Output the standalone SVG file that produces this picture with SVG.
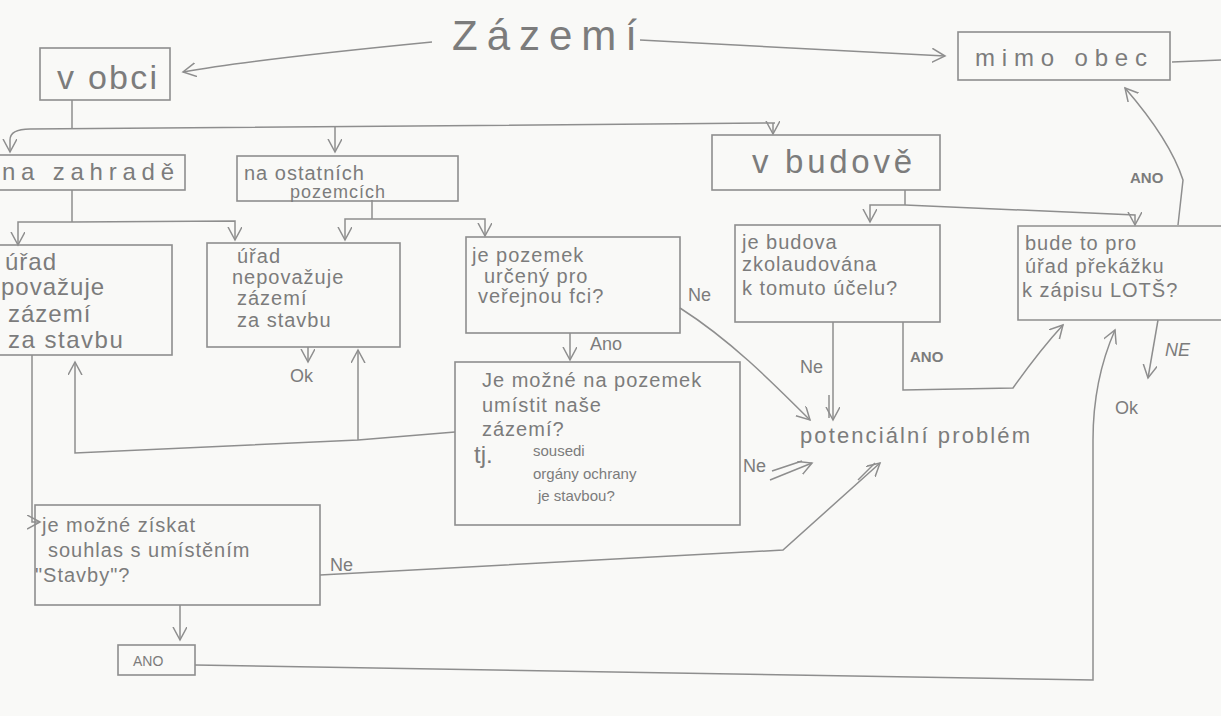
<svg xmlns="http://www.w3.org/2000/svg" width="1221" height="716" viewBox="0 0 1221 716">
<style>
.bg{fill:#f9f9f7}
.box{fill:none;stroke:#8e8e8e;stroke-width:1.6}
.c{fill:none;stroke:#8e8e8e;stroke-width:1.5}
.ca{fill:none;stroke:#8e8e8e;stroke-width:1.5;marker-end:url(#ah)}
text{font-family:"Liberation Sans","DejaVu Sans",sans-serif;fill:#7c7c7c}
.t{font-size:20px;letter-spacing:1px}
.s{font-size:15px}
.lab{font-size:18px}
.cap{font-size:15px;font-weight:bold}
</style>
<defs>
<marker id="ah" markerUnits="userSpaceOnUse" markerWidth="18" markerHeight="18" refX="13" refY="7" orient="auto">
<path d="M0,0 L13,7 L0,14" fill="none" stroke="#8e8e8e" stroke-width="1.5"/>
</marker>
</defs>
<rect class="bg" x="0" y="0" width="1221" height="716"/>

<g id="connectors">
<path class="ca" d="M432,42 C350,50 250,60 183,72"/>
<path class="ca" d="M640,40 L945,56"/>
<path class="c" d="M1172,62 L1221,60"/>
<path class="c" d="M72,100 V128"/>
<path class="ca" d="M775,123 L30,129 Q10,129 10,140 V152"/>
<path class="ca" d="M335,127 V152"/>
<path class="ca" d="M773,123 V134"/>
<path class="c" d="M72,190 V222"/>
<path class="ca" d="M72,222 L18,222 V245"/>
<path class="ca" d="M72,222 L235,221 V240"/>
<path class="c" d="M372,200 V219"/>
<path class="ca" d="M372,219 L345,219 V240"/>
<path class="ca" d="M372,219 L485,219 V236"/>
<path class="ca" d="M308,347 V362"/>
<path class="ca" d="M680,308 C730,340 770,380 810,420"/>
<path class="ca" d="M570,333 V360"/>
<path class="ca" d="M455,432 L358,440 L75,453 V362"/>
<path class="ca" d="M358,440 V350"/>
<path class="ca" d="M770,480 L812,463"/>
<path class="c" d="M772,471 L802,461"/>
<path class="c" d="M905,190 V205"/>
<path class="ca" d="M905,205 L870,205 V222"/>
<path class="ca" d="M905,205 L1135,215 V225"/>
<path class="ca" d="M833,322 V420"/>
<path class="c" d="M829,395 V418"/>
<path class="ca" d="M903,322 V390 L1013,388 Q1040,350 1063,325"/>
<path class="ca" d="M1178,225 L1183,180 Q1170,140 1125,88"/>
<path class="ca" d="M1158,320 L1148,378"/>
<path class="ca" d="M32,355 V522 L40,522"/>
<path class="ca" d="M320,575 L783,550 L880,463"/>
<path class="c" d="M858,480 L875,463"/>
<path class="ca" d="M180,605 V640"/>
<path class="ca" d="M195,665 L1093,680 V440 Q1093,380 1115,330"/>
<text class="lab" x="688" y="301">Ne</text>
<text class="lab" x="590" y="350">Ano</text>
<text class="lab" x="743" y="472">Ne</text>
<text class="lab" x="800" y="373">Ne</text>
<text class="cap" x="910" y="362">ANO</text>
<text class="cap" x="1130" y="183">ANO</text>
<text class="lab" x="1165" y="356" font-style="italic">NE</text>
<text class="lab" x="1115" y="414">Ok</text>
<text class="lab" x="290" y="382">Ok</text>
<text class="lab" x="330" y="571">Ne</text>
</g>

<g id="title">
<text x="452" y="50" font-size="42" textLength="185" lengthAdjust="spacing">Zázemí</text>
</g>

<g id="v-obci">
<rect class="box" x="40" y="48" width="130" height="52"/>
<text x="57" y="89" font-size="34" textLength="100" lengthAdjust="spacing">v obci</text>
</g>

<g id="mimo-obec">
<rect class="box" x="958" y="32" width="212" height="48"/>
<text x="975" y="66" font-size="24" textLength="172" lengthAdjust="spacing">mimo obec</text>
</g>

<g id="na-zahrade">
<rect class="box" x="-5" y="155" width="190" height="35"/>
<text x="2" y="180" font-size="24" textLength="172" lengthAdjust="spacing">na zahradě</text>
</g>

<g id="na-ostatnich">
<rect class="box" x="237" y="156" width="221" height="45"/>
<text class="t" x="244" y="180">na ostatních</text>
<text x="290" y="198" font-size="18" letter-spacing="1">pozemcích</text>
</g>

<g id="v-budove">
<rect class="box" x="712" y="135" width="228" height="55"/>
<text x="752" y="173" font-size="33" textLength="160" lengthAdjust="spacing">v budově</text>
</g>

<g id="urad-povazuje">
<rect class="box" x="-5" y="245" width="177" height="110"/>
<text x="5" y="270" font-size="24" letter-spacing="1">úřad</text>
<text x="1" y="295" font-size="24" letter-spacing="1">považuje</text>
<text x="8" y="322" font-size="24" letter-spacing="1">zázemí</text>
<text x="8" y="348" font-size="24" letter-spacing="1.5">za stavbu</text>
</g>

<g id="urad-nepovazuje">
<rect class="box" x="207" y="243" width="193" height="104"/>
<text class="t" x="237" y="263">úřad</text>
<text class="t" x="232" y="284">nepovažuje</text>
<text class="t" x="237" y="305">zázemí</text>
<text class="t" x="237" y="327">za stavbu</text>
</g>

<g id="je-pozemek">
<rect class="box" x="466" y="237" width="214" height="96"/>
<text class="t" x="472" y="262">je pozemek</text>
<text class="t" x="484" y="283">určený pro</text>
<text class="t" x="478" y="303">veřejnou fci?</text>
</g>

<g id="je-mozne">
<rect class="box" x="455" y="362" width="285" height="163"/>
<text class="t" x="482" y="387">Je možné na pozemek</text>
<text class="t" x="482" y="412">umístit naše</text>
<text class="t" x="482" y="436">zázemí?</text>
<text x="474" y="463" font-size="24">tj.</text>
<text class="s" x="533" y="456">sousedi</text>
<text class="s" x="533" y="479">orgány ochrany</text>
<text class="s" x="538" y="501">je stavbou?</text>
</g>

<g id="potencialni">
<text x="800" y="443" font-size="22" textLength="230" lengthAdjust="spacing">potenciální problém</text>
</g>

<g id="je-budova">
<rect class="box" x="735" y="225" width="205" height="97"/>
<text class="t" x="742" y="249">je budova</text>
<text class="t" x="742" y="271">zkolaudována</text>
<text class="t" x="742" y="295">k tomuto účelu?</text>
</g>

<g id="bude-to">
<path class="box" d="M1221,226 H1018 V320 H1221"/>
<text class="t" x="1025" y="250">bude to pro</text>
<text class="t" x="1025" y="273">úřad překážku</text>
<text class="t" x="1022" y="297">k zápisu LOTŠ?</text>
</g>

<g id="je-mozne-ziskat">
<rect class="box" x="35" y="505" width="285" height="100"/>
<text class="t" x="42" y="532">je možné získat</text>
<text class="t" x="48" y="557">souhlas s umístěním</text>
<text class="t" x="35" y="582">"Stavby"?</text>
</g>

<g id="ano">
<rect class="box" x="118" y="645" width="77" height="30"/>
<text x="133" y="666" font-size="14">ANO</text>
</g>
</svg>
